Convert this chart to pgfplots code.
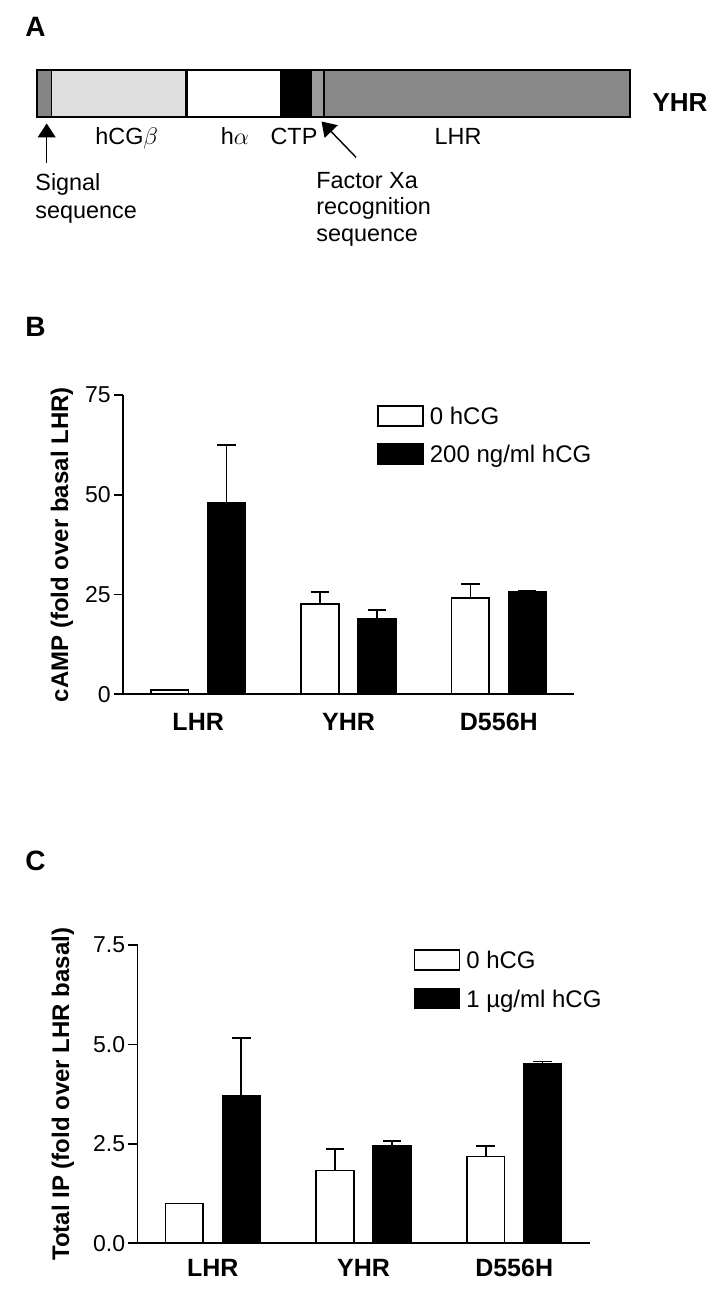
\documentclass[border=0pt]{standalone}
\usepackage{fontspec}
\setmainfont{Liberation Sans}
\usepackage{pgfplots}
\usepackage{pgfplotstable}
\pgfplotsset{compat=1.18}
\usetikzlibrary{arrows.meta}
\definecolor{sigcol}{HTML}{858585}
\definecolor{betacol}{HTML}{DFDFDF}
\definecolor{xacol}{HTML}{9C9C9C}
\definecolor{lhrcol}{HTML}{888888}
\pgfplotsset{boxlegend/.style={legend image code/.code={\draw[##1,line width=0.85pt] (0pt,-5pt) rectangle (22.5pt,5pt);}}}
\pgfplotsset{panel/.style={
  scale only axis, anchor=south west, clip=false,
  xmin=-0.5, xmax=2.5, ymin=0,
  axis lines=left, axis line style={-, line width=0.85pt, black},
  xtick={0,1,2}, xticklabels={LHR,YHR,D556H},
  tick align=outside, major tick length=4.7pt,
  xtick style={draw=none},
  ytick style={line width=0.85pt, black},
  /pgf/number format/assume math mode=true,
  yticklabel style={font=\fontsize{11.5pt}{13pt}\selectfont, inner xsep=1.3pt},
  xticklabel style={font=\bfseries\fontsize{12.5pt}{14pt}\selectfont, anchor=north, inner sep=0pt, text height=9pt, text depth=0pt},
  ylabel style={font=\bfseries\fontsize{12pt}{14pt}\selectfont, anchor=center},
  legend cell align=left,
  legend style={draw=none, fill=none, inner sep=0pt, outer sep=0pt, anchor=north west, row sep=8.3pt,
    nodes={inner xsep=3pt, inner ysep=0pt, text height=8.6pt, text depth=0pt, font=\fontsize{12pt}{14pt}\selectfont}},
}}
\pgfplotsset{barcommon/.style={ybar, bar width=18.85pt, bar shift=0pt, draw=black, line width=0.85pt, forget plot,
  error bars/.cd, y dir=plus, y explicit, error bar style={line width=0.85pt, black},
  error mark options={rotate=90, mark size=4.6pt, line width=0.85pt, black}}}

% x positions: group index -0.189 (0 hCG) and +0.189 (hCG)
\pgfplotstableread{
x y e
-0.189 1.0 0
0.811 22.6 3.0
1.811 24.1 3.6
}\cAMPzero
\pgfplotstableread{
x y e
0.189 48.0 14.5
1.189 18.8 2.3
2.189 25.6 0.28
}\cAMPhcg
\pgfplotstableread{
x y e
-0.189 1.0 0
0.811 1.83 0.54
1.811 2.18 0.27
}\IPzero
\pgfplotstableread{
x y e
0.189 3.72 1.44
1.189 2.46 0.11
2.189 4.51 0.06
}\IPhcg

\begin{document}
\begin{tikzpicture}
\begin{scope}[x=0.5pt,y=-0.5pt]
\path (0,0) rectangle (718,1305);
\node[anchor=base west,inner sep=0pt,font=\bfseries\fontsize{14pt}{16pt}\selectfont] at (25,37) {A};
\node[anchor=base west,inner sep=0pt,font=\bfseries\fontsize{14pt}{16pt}\selectfont] at (25,336.7) {B};
\node[anchor=base west,inner sep=0pt,font=\bfseries\fontsize{14pt}{16pt}\selectfont] at (25,870) {C};
% construct bar
\fill[sigcol] (37.3,70) rectangle (51.7,116.7);
\fill[betacol] (51.7,70) rectangle (186.7,116.7);
\fill[white] (186.7,70) rectangle (280,116.7);
\fill[black] (280,70) rectangle (311.7,116.7);
\fill[xacol] (311.7,70) rectangle (324,116.7);
\fill[lhrcol] (324,70) rectangle (630,116.7);
\draw[line width=0.6pt] (51.7,70)--(51.7,116.7);
\draw[line width=1.5pt] (186.7,70)--(186.7,116.7);
\draw[line width=0.6pt] (324,70)--(324,116.7);
\draw[line width=1pt] (37.3,70) rectangle (630,116.7);
\begin{scope}[every node/.style={inner sep=0pt,font=\fontsize{11.7pt}{14pt}\selectfont}]
\node[anchor=base] at (126.7,145) {hCG$\beta$};
\node[anchor=base] at (235,145) {h$\alpha$};
\node[anchor=base] at (294,145) {CTP};
\node[anchor=base] at (458,145) {LHR};
\node[anchor=base west] at (35,190.7) {Signal};
\node[anchor=base west] at (35,218.3) {sequence};
\node[anchor=base west] at (316,188.3) {Factor Xa};
\node[anchor=base west] at (316,215) {recognition};
\node[anchor=base west] at (316,241.7) {sequence};
\end{scope}
\node[anchor=base,inner sep=0pt,font=\bfseries\fontsize{13pt}{15pt}\selectfont] at (680,111.7) {YHR};
\draw[line width=0.7pt,-{Triangle[length=7pt,width=9pt]}] (46.7,163) -- (46.7,123.5);
\draw[line width=0.7pt,-{Triangle[length=7pt,width=9pt]}] (356,157.3) -- (321.5,121.5);
\end{scope}

% Panel B
\begin{axis}[panel,
  at={(61.5pt,-347.15pt)}, width=225.5pt, height=149.65pt,
  ymax=75, ytick={0,25,50,75},
  xticklabel style={yshift=-4pt},
  ylabel={cAMP (fold over basal LHR)},
  ylabel style={at={(axis description cs:-0.1353,0.5)}},
  legend style={at={(axis description cs:0.5636,0.9666)}},
]
\addlegendimage{boxlegend, draw=black, fill=white}
\addlegendentry{0 hCG}
\addlegendimage{boxlegend, draw=black, fill=black}
\addlegendentry{200 ng/ml hCG}
\addplot[fill=white, barcommon] table[x=x, y=y, y error=e] {\cAMPzero};
\addplot[fill=black, barcommon] table[x=x, y=y, y error=e] {\cAMPhcg};
\end{axis}

% Panel C
\begin{axis}[panel,
  at={(68.75pt,-621.65pt)}, width=226pt, height=149.15pt,
  ymax=7.5, ytick={0,2.5,5,7.5},
  yticklabel style={/pgf/number format/.cd, fixed, fixed zerofill, precision=1},
  xticklabel style={yshift=-2.8pt},
  ylabel={Total IP (fold over LHR basal)},
  ylabel style={at={(axis description cs:-0.1648,0.5)}},
  legend style={at={(axis description cs:0.6108,0.9856)}},
]
\addlegendimage{boxlegend, draw=black, fill=white}
\addlegendentry{0 hCG}
\addlegendimage{boxlegend, draw=black, fill=black}
\addlegendentry{1 µg/ml hCG}
\addplot[fill=white, barcommon] table[x=x, y=y, y error=e] {\IPzero};
\addplot[fill=black, barcommon] table[x=x, y=y, y error=e] {\IPhcg};
\end{axis}
\end{tikzpicture}
\end{document}
